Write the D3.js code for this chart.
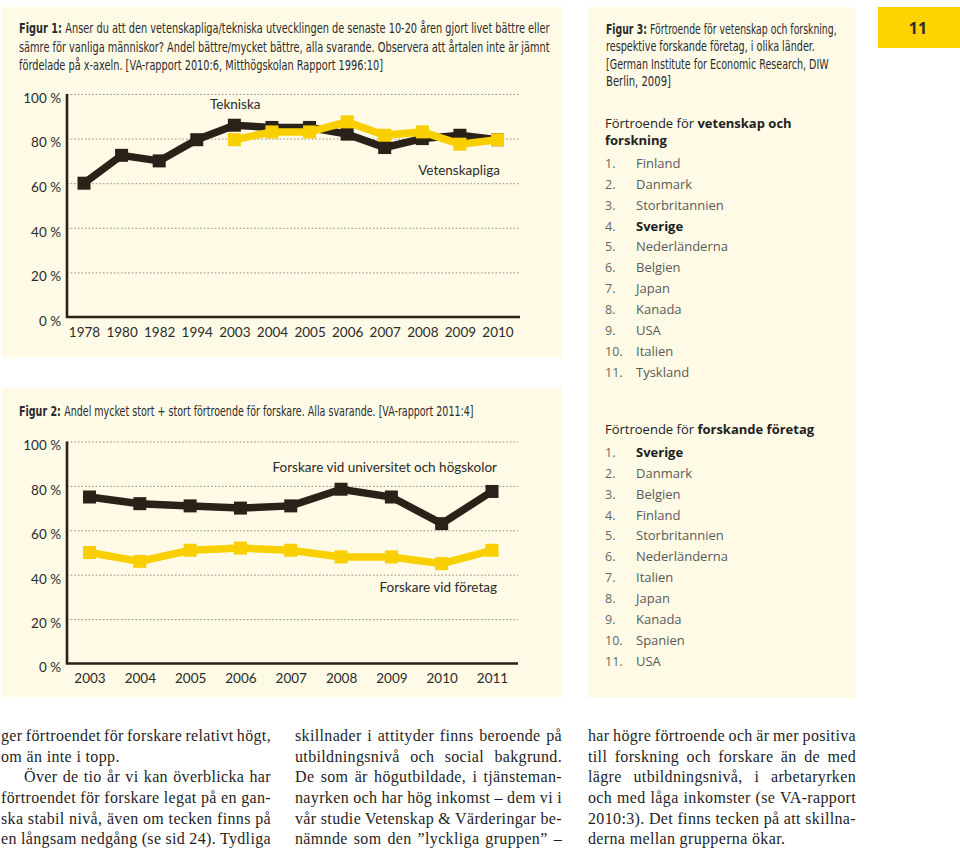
<!DOCTYPE html>
<html>
<head>
<meta charset="utf-8">
<script src="https://cdn.jsdelivr.net/npm/d3@7"></script>
<style>
  body { margin: 0; background: #fff; }
</style>
</head>
<body>
<svg id="page" width="960" height="854"></svg>
<script>
// ---- data ----
var fig1Years = ["1978", "1980", "1982", "1994", "2003", "2004", "2005", "2006", "2007", "2008", "2009", "2010"];
var tekniska = [60, 72.5, 70, 79.5, 86, 85, 85, 82, 76, 80, 81.5, 79.5];
var vetenskapliga = [null, null, null, null, 79.5, 83, 83, 87.5, 81.5, 83, 77.5, 79.5];

var fig2Years = ["2003", "2004", "2005", "2006", "2007", "2008", "2009", "2010", "2011"];
var universitet = [75, 72, 71, 70, 71, 78.5, 75, 63, 77.5];
var foretag = [50, 46, 51, 52, 51, 48, 48, 45, 51];

var yTicks = [0, 20, 40, 60, 80, 100];

var fig1Title = [
  "Anser du att den vetenskapliga/tekniska utvecklingen de senaste 10-20 åren gjort livet bättre eller",
  "sämre för vanliga människor? Andel bättre/mycket bättre, alla svarande. Observera att årtalen inte är jämnt",
  "fördelade på x-axeln. [VA-rapport 2010:6, Mitthögskolan Rapport 1996:10]"
];
var fig2Title = ["Andel mycket stort + stort förtroende för forskare. Alla svarande. [VA-rapport 2011:4]"];
var fig3Title = [
  "Förtroende för vetenskap och forskning,",
  "respektive forskande företag, i olika länder.",
  "[German Institute for Economic Research, DIW",
  "Berlin, 2009]"
];

var rankVetenskap = ["Finland", "Danmark", "Storbritannien", "Sverige", "Nederländerna", "Belgien", "Japan", "Kanada", "USA", "Italien", "Tyskland"];
var rankForetag = ["Sverige", "Danmark", "Belgien", "Finland", "Storbritannien", "Nederländerna", "Italien", "Japan", "Kanada", "Spanien", "USA"];

var bodyCol1 = [
  "ger förtroendet för forskare relativt högt,",
  "om än inte i topp.",
  "Över de tio år vi kan överblicka har",
  "förtroendet för forskare legat på en gan-",
  "ska stabil nivå, även om tecken finns på",
  "en långsam nedgång (se sid 24). Tydliga"
];
var bodyCol2 = [
  "skillnader i attityder finns beroende på",
  "utbildningsnivå och social bakgrund.",
  "De som är högutbildade, i tjänsteman-",
  "nayrken och har hög inkomst – dem vi i",
  "vår studie Vetenskap & Värderingar be-",
  "nämnde som den ”lyckliga gruppen” –"
];
var bodyCol3 = [
  "har högre förtroende och är mer positiva",
  "till forskning och forskare än de med",
  "lägre utbildningsnivå, i arbetaryrken",
  "och med låga inkomster (se VA-rapport",
  "2010:3). Det finns tecken på att skillna-",
  "derna mellan grupperna ökar."
];

// ---- style ----
var cream = "#fefae5";
var dark = "#2a2119";
var yellow = "#f9cf00";
var ink = "#2b2b2b";
var condensed = "'Liberation Sans Narrow', 'DejaVu Sans Condensed', Roboto, sans-serif";
var geo = "Lato, 'Open Sans', sans-serif";
var humanist = "'Open Sans', 'Noto Sans', sans-serif";
var serif = "'Liberation Serif', 'DejaVu Serif', serif";

var svg = d3.select("#page");

// panels
svg.append("rect").attr("x", 2).attr("y", 7).attr("width", 560).attr("height", 350).attr("fill", cream);
svg.append("rect").attr("x", 2).attr("y", 388).attr("width", 560).attr("height", 309).attr("fill", cream);
svg.append("rect").attr("x", 588).attr("y", 7).attr("width", 268).attr("height", 691).attr("fill", cream);
svg.append("rect").attr("x", 878).attr("y", 7).attr("width", 82).attr("height", 41).attr("fill", "#fdd300");
svg.append("text").attr("x", 918).attr("y", 34).attr("text-anchor", "middle")
    .attr("font-family", humanist).attr("font-weight", 700).attr("font-size", 16).attr("fill", ink)
    .text("11");

// caption lines, horizontally scaled to the width of the original condensed face
function caption(label, lines, x, y0, step, widths) {
  lines.forEach(function (line, i) {
    var y = y0 + i * step;
    var t = svg.append("text")
        .attr("transform", "translate(" + x + "," + y + ")")
        .attr("font-family", condensed).attr("font-size", 13.5).attr("fill", ink);
    if (i === 0 && label) {
      t.append("tspan").attr("font-weight", 700).text(label + " ");
    }
    t.append("tspan").text(line);
    var k = widths[i] / t.node().getComputedTextLength();
    t.attr("transform", "translate(" + x + "," + y + ") scale(" + k + ",1)");
  });
}

caption("Figur 1:", fig1Title, 19, 33, 18.5, [531, 531, 364]);
caption("Figur 2:", fig2Title, 19, 416, 18, [455]);
caption("Figur 3:", fig3Title, 606, 34, 17.3, [231, 209, 223, 65]);

// ---- line charts ----
function lineChart(cfg) {
  var g = svg.append("g");
  var x = d3.scalePoint().domain(cfg.years).range(cfg.xRange);
  var y = d3.scaleLinear().domain([0, 100]).range([cfg.y0, cfg.y100]);

  // dotted grid
  g.append("g")
      .attr("transform", "translate(" + cfg.axisX + ",0)")
      .call(d3.axisLeft(y).tickValues(yTicks.slice(1)).tickSize(-(cfg.right - cfg.axisX)).tickFormat(""))
      .call(function (s) { s.select(".domain").remove(); })
      .selectAll("line")
      .attr("stroke", "#8a8578").attr("stroke-width", 0.9).attr("stroke-dasharray", "1.6,2");

  // y labels
  var ya = g.append("g")
      .attr("transform", "translate(" + cfg.axisX + ",0)")
      .call(d3.axisLeft(y).tickValues(yTicks).tickSize(0).tickPadding(6).tickFormat(function (d) { return d + " %"; }));
  ya.select(".domain").remove();
  ya.selectAll("text").attr("font-family", geo).attr("font-size", 13.5).attr("fill", ink).attr("y", 4);

  // x labels
  var xa = g.append("g")
      .attr("transform", "translate(0," + cfg.y0 + ")")
      .call(d3.axisBottom(x).tickSize(0).tickPadding(10));
  xa.select(".domain").remove();
  xa.selectAll("text").attr("font-family", geo).attr("font-size", 13.5).attr("fill", ink);

  // axis frame
  g.append("path")
      .attr("d", "M" + cfg.axisX + "," + y(100) + "V" + cfg.y0 + "H" + cfg.right)
      .attr("fill", "none").attr("stroke", dark).attr("stroke-width", 2.6);

  var line = d3.line()
      .defined(function (d) { return d != null; })
      .x(function (d, i) { return x(cfg.years[i]); })
      .y(function (d) { return y(d); });

  cfg.series.forEach(function (s) {
    g.append("path").datum(s.values)
        .attr("d", line)
        .attr("fill", "none").attr("stroke", s.color).attr("stroke-width", 7.5)
        .attr("stroke-linejoin", "miter");
    g.selectAll(null)
        .data(s.values.map(function (v, i) { return { v: v, year: cfg.years[i] }; })
          .filter(function (d) { return d.v != null; }))
        .enter().append("rect")
        .attr("x", function (d) { return x(d.year) - 6.5; })
        .attr("y", function (d) { return y(d.v) - 6.5; })
        .attr("width", 13).attr("height", 13)
        .attr("fill", s.color);
  });

  cfg.labels.forEach(function (l) {
    g.append("text")
        .attr("x", l.x).attr("y", l.y).attr("text-anchor", l.anchor)
        .attr("font-family", geo).attr("font-size", 13.5).attr("fill", ink)
        .text(l.text);
  });
}

lineChart({
  years: fig1Years,
  xRange: [84, 497.5],
  y0: 317, y100: 94,
  axisX: 67, right: 520,
  series: [
    { values: tekniska, color: dark },
    { values: vetenskapliga, color: yellow }
  ],
  labels: [
    { text: "Tekniska", x: 210, y: 109, anchor: "start" },
    { text: "Vetenskapliga", x: 500, y: 175, anchor: "end" }
  ]
});

lineChart({
  years: fig2Years,
  xRange: [89.5, 492],
  y0: 663.5, y100: 441.5,
  axisX: 67, right: 518,
  series: [
    { values: universitet, color: dark },
    { values: foretag, color: yellow }
  ],
  labels: [
    { text: "Forskare vid universitet och högskolor", x: 497, y: 472, anchor: "end" },
    { text: "Forskare vid företag", x: 497, y: 592, anchor: "end" }
  ]
});

// ---- ranking lists ----
function rankList(headLines, items, y0) {
  headLines.forEach(function (parts, i) {
    var t = svg.append("text").attr("x", 605).attr("y", y0 + i * 17)
        .attr("font-family", humanist).attr("font-size", 13).attr("fill", "#222");
    parts.forEach(function (p) {
      t.append("tspan").attr("font-weight", p[1] ? 700 : 400).text(p[0]);
    });
  });
  var top = y0 + (headLines.length - 1) * 17 + 23;
  items.forEach(function (name, i) {
    var bold = name === "Sverige";
    var yy = top + i * 20.85;
    svg.append("text").attr("x", 605).attr("y", yy)
        .attr("font-family", humanist).attr("font-size", 12.5).attr("fill", "#666")
        .text((i + 1) + ".");
    svg.append("text").attr("x", 636).attr("y", yy)
        .attr("font-family", humanist).attr("font-size", 13)
        .attr("font-weight", bold ? 700 : 400)
        .attr("fill", bold ? "#1a1a1a" : "#5a5a5a")
        .text(name);
  });
}

rankList([[["Förtroende för ", false], ["vetenskap och", true]], [["forskning", true]]], rankVetenskap, 128);
rankList([[["Förtroende för ", false], ["forskande företag", true]]], rankForetag, 434);

// ---- body text, justified with word spacing ----
function column(lines, x, width, justify, indents) {
  lines.forEach(function (line, i) {
    var ind = indents[i] || 0;
    var t = svg.append("text").attr("x", x + ind).attr("y", 741 + i * 20.65)
        .attr("font-family", serif).attr("font-size", 16).attr("fill", "#1e1e1e")
        .style("letter-spacing", "0.35px")
        .text(line);
    if (justify[i]) {
      var w = t.node().getComputedTextLength();
      var gaps = line.split(" ").length - 1;
      if (gaps > 0) t.style("word-spacing", ((width - ind - w) / gaps) + "px");
    }
  });
}

column(bodyCol1, 1, 270, [true, false, true, true, true, true], [0, 0, 23, 0, 0, 0]);
column(bodyCol2, 295, 267, [true, true, true, true, true, true], []);
column(bodyCol3, 588, 268, [true, true, true, true, true, false], []);
</script>
</body>
</html>
